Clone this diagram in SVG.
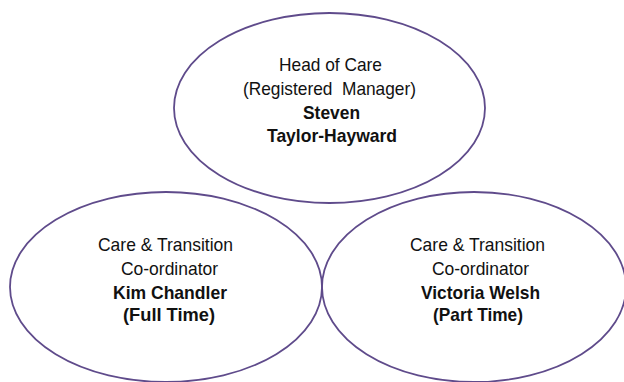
<svg xmlns="http://www.w3.org/2000/svg" width="624" height="382" viewBox="0 0 624 382">
<style>
.node ellipse{fill:none;stroke:#5f4b8b;stroke-width:1.8}
text{font-family:"Liberation Sans Narrow","Liberation Sans",Arial,sans-serif;font-size:18.5px;fill:#111;text-anchor:middle}
.b{font-weight:bold}
</style>
<rect width="624" height="382" fill="#fff"/>
<g id="connectors"></g>
<g id="node-head" class="node">
<ellipse cx="329.5" cy="108" rx="155.5" ry="95"/>
<text x="330.5" y="71" textLength="103" lengthAdjust="spacingAndGlyphs">Head of Care</text>
<text x="329.5" y="95" textLength="173" lengthAdjust="spacingAndGlyphs">(Registered&#160; Manager)</text>
<text class="b" x="331.5" y="118.5" textLength="57" lengthAdjust="spacingAndGlyphs">Steven</text>
<text class="b" x="332" y="142" textLength="130" lengthAdjust="spacingAndGlyphs">Taylor-Hayward</text>
</g>
<g id="node-kim" class="node">
<ellipse cx="166" cy="287" rx="156" ry="95"/>
<text x="165.5" y="251" textLength="135" lengthAdjust="spacingAndGlyphs">Care &amp; Transition</text>
<text x="169.5" y="275" textLength="97" lengthAdjust="spacingAndGlyphs">Co-ordinator</text>
<text class="b" x="170" y="298.5" textLength="114" lengthAdjust="spacingAndGlyphs">Kim Chandler</text>
<text class="b" x="169" y="321" textLength="92" lengthAdjust="spacingAndGlyphs">(Full Time)</text>
</g>
<g id="node-victoria" class="node">
<ellipse cx="474" cy="287" rx="152" ry="95"/>
<text x="477.5" y="251" textLength="135" lengthAdjust="spacingAndGlyphs">Care &amp; Transition</text>
<text x="480.5" y="275" textLength="97" lengthAdjust="spacingAndGlyphs">Co-ordinator</text>
<text class="b" x="480.5" y="298.5" textLength="119" lengthAdjust="spacingAndGlyphs">Victoria Welsh</text>
<text class="b" x="478" y="321" textLength="90" lengthAdjust="spacingAndGlyphs">(Part Time)</text>
</g>
</svg>
